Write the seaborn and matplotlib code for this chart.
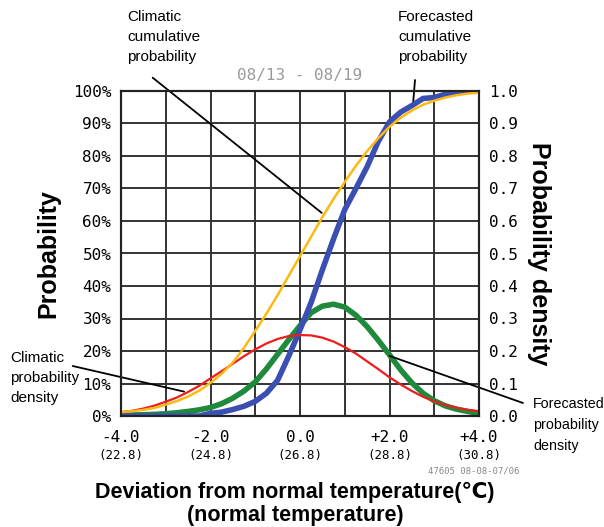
import numpy as np
import pandas as pd
import matplotlib
matplotlib.use("Agg")
import matplotlib.pyplot as plt
import matplotlib.transforms as mtransforms
import seaborn as sns

# deviation from normal temperature (degC)
dev = [-4.0, -3.75, -3.5, -3.25, -3.0, -2.75, -2.5, -2.25, -2.0, -1.75, -1.5,
       -1.25, -1.0, -0.75, -0.5, -0.25, 0.0, 0.25, 0.5, 0.75, 1.0, 1.25, 1.5,
       1.75, 2.0, 2.25, 2.5, 2.75, 3.0, 3.25, 3.5, 3.75, 4.0]

clim_cum = [0.012, 0.015, 0.019, 0.025, 0.035, 0.046, 0.060, 0.078, 0.102, 0.130, 0.165,
            0.210, 0.262, 0.315, 0.372, 0.432, 0.492, 0.552, 0.612, 0.668, 0.720, 0.770,
            0.815, 0.855, 0.890, 0.918, 0.940, 0.958, 0.970, 0.980, 0.987, 0.992, 0.995]

clim_pdf = [0.012, 0.016, 0.023, 0.032, 0.044, 0.057, 0.074, 0.093, 0.116, 0.138, 0.161,
            0.184, 0.205, 0.223, 0.237, 0.246, 0.249, 0.248, 0.241, 0.229, 0.212, 0.192,
            0.168, 0.144, 0.119, 0.097, 0.077, 0.059, 0.045, 0.034, 0.025, 0.019, 0.015]

fcst_cum = [0.0, 0.0, 0.0, 0.0, 0.0, 0.0, 0.0, 0.0, 0.008, 0.012, 0.020,
            0.030, 0.045, 0.070, 0.110, 0.185, 0.265, 0.350, 0.450, 0.545, 0.635, 0.700,
            0.767, 0.845, 0.905, 0.935, 0.955, 0.977, 0.980, 0.990, 0.995, 1.0, 1.0]

fcst_pdf = [0.002, 0.003, 0.004, 0.005, 0.007, 0.010, 0.014, 0.019, 0.026, 0.038, 0.055,
            0.077, 0.105, 0.145, 0.190, 0.235, 0.278, 0.318, 0.338, 0.344, 0.335, 0.310,
            0.275, 0.233, 0.188, 0.142, 0.102, 0.070, 0.047, 0.031, 0.021, 0.014, 0.008]

xticks = [-4, -2, 0, 2, 4]
xtick_labels = ["-4.0", "-2.0", "0.0", "+2.0", "+4.0"]
normal_labels = ["(22.8)", "(24.8)", "(26.8)", "(28.8)", "(30.8)"]
yticks = [0.0, 0.1, 0.2, 0.3, 0.4, 0.5, 0.6, 0.7, 0.8, 0.9, 1.0]

df = pd.DataFrame({"dev": dev, "clim_cum": clim_cum, "clim_pdf": clim_pdf,
                   "fcst_cum": fcst_cum, "fcst_pdf": fcst_pdf})

sns.set_style("white")
plt.rcParams.update({"text.color": "black", "axes.labelcolor": "black",
                     "xtick.color": "black", "ytick.color": "black"})
mono = "DejaVu Sans Mono"
sans = ["Liberation Sans", "DejaVu Sans"]

W, H = 604, 527
fig = plt.figure(figsize=(W / 100, H / 100), dpi=100)
ax = fig.add_axes([121 / W, 111 / H, 358 / W, 325 / H])

sns.lineplot(data=df, x="dev", y="fcst_pdf", ax=ax, color="#1f8a3c", lw=4, zorder=3)
sns.lineplot(data=df, x="dev", y="fcst_cum", ax=ax, color="#3b4fb2", lw=4, zorder=4)
sns.lineplot(data=df, x="dev", y="clim_pdf", ax=ax, color="#ee1c1c", lw=1.6, zorder=5)
sns.lineplot(data=df, x="dev", y="clim_cum", ax=ax, color="#fdb913", lw=1.8, zorder=6)

ax.set_xlim(-4, 4)
ax.set_ylim(0, 1)
ax.set_xticks(np.arange(-4, 5, 1), minor=True)
ax.set_xticks(xticks)
ax.set_xticklabels(xtick_labels, fontfamily=mono, fontsize=11.5)
ax.set_yticks(yticks)
ax.set_yticklabels([f"{int(round(v * 100))}%" for v in yticks], fontfamily=mono, fontsize=11.5)
ax.grid(True, which="both", color="#333333", lw=1.4, zorder=0)
ax.set_axisbelow(True)
ax.tick_params(axis="both", length=0, pad=7)
ax.tick_params(axis="x", pad=10)
ax.set_xlabel("")
ax.set_ylabel("Probability", fontfamily=sans, fontsize=18, fontweight="bold", labelpad=9)
for s in ax.spines.values():
    s.set_color("#222222")
    s.set_linewidth(1.5)

ax2 = ax.twinx()
ax2.set_ylim(0, 1)
ax2.set_yticks(yticks)
ax2.set_yticklabels([f"{v:.1f}" for v in yticks], fontfamily=mono, fontsize=11.5)
ax2.tick_params(axis="y", length=0, pad=7)
ax2.set_ylabel("Probability density", fontfamily=sans, fontsize=18, fontweight="bold",
               rotation=-90, labelpad=24)
for s in ax2.spines.values():
    s.set_color("#222222")
    s.set_linewidth(1.5)

# normal temperature under each tick
trans = mtransforms.blended_transform_factory(ax.transData, fig.transFigure)
for xv, lab in zip(xticks, normal_labels):
    ax.text(xv, 1 - 456 / H, lab, transform=trans, ha="center", va="center",
            fontfamily=mono, fontsize=9)

ax.set_title("08/13 - 08/19", fontfamily=mono, fontsize=11.5, color="#9a9a9a", pad=8)

fig.text(295 / W, 1 - 492 / H, "Deviation from normal temperature(\u2103)", ha="center",
         va="center", fontfamily=sans, fontsize=15.5, fontweight="bold")
fig.text(295 / W, 1 - 516 / H, "(normal temperature)", ha="center", va="center",
         fontfamily=sans, fontsize=15.5, fontweight="bold")
fig.text(519 / W, 1 - 471 / H, "47605 08-08-07/06", ha="right", va="center",
         fontfamily=mono, fontsize=6.5, color="#888888")

# annotations
ann_fs = 11
fig.text(127 / W, 1 - 10 / H, "Climatic\ncumulative\nprobability", ha="left", va="top",
         fontfamily=sans, fontsize=ann_fs, linespacing=1.55)
fig.text(398 / W, 1 - 10 / H, "Forecasted\ncumulative\nprobability", ha="left", va="top",
         fontfamily=sans, fontsize=ann_fs, linespacing=1.55)
fig.text(10 / W, 1 - 351 / H, "Climatic\nprobability\ndensity", ha="left", va="top",
         fontfamily=sans, fontsize=ann_fs, linespacing=1.55)
fig.text(533 / W, 1 - 397 / H, "Forecasted\nprobability\ndensity", ha="left", va="top",
         fontfamily=sans, fontsize=10.3, linespacing=1.65)

line_kw = dict(arrowstyle="-", color="black", lw=1.3, shrinkA=0, shrinkB=0)
ax.annotate("", xy=(0.485, 0.625), xytext=(152.7, H - 77.7), textcoords="figure pixels",
            arrowprops=line_kw, annotation_clip=False)
ax.annotate("", xy=(2.53, 0.967), xytext=(415, H - 80), textcoords="figure pixels",
            arrowprops=line_kw, annotation_clip=False)
ax.annotate("", xy=(-2.59, 0.075), xytext=(72.7, H - 366), textcoords="figure pixels",
            arrowprops=line_kw, annotation_clip=False)
ax.annotate("", xy=(2.0, 0.185), xytext=(523, H - 403), textcoords="figure pixels",
            arrowprops=line_kw, annotation_clip=False)

fig.savefig("out.png", dpi=100)
